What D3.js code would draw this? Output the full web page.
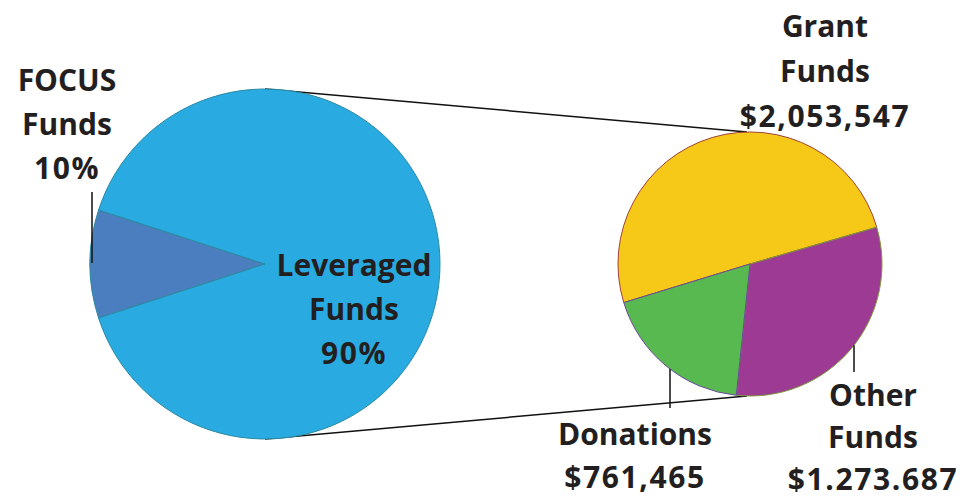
<!DOCTYPE html>
<html>
<head>
<meta charset="utf-8">
<script src="https://cdn.jsdelivr.net/npm/d3@7"></script>
<style>
  body { margin: 0; background: #fff; }
  text { font-family: "Open Sans", Lato, sans-serif; font-weight: 700; fill: #231f20; }
</style>
</head>
<body>
<div class="container"></div>
<script>
const WIDTH = 978;
const HEIGHT = 496;

// left pie: FOCUS share vs leveraged share
var leftCategories = ['FOCUS Funds', 'Leveraged Funds'];
var leftValues = [10, 90];
var leftLabels = [['FOCUS', 'Funds', '10%'], ['Leveraged', 'Funds', '90%']];
var leftColors = ['#4a7ebf', '#29abe2'];

// right pie: breakdown of leveraged funds
var rightCategories = ['Grant Funds', 'Other Funds', 'Donations'];
var rightValues = [2053547, 1273687, 761465];
var rightLabels = [['Grant', 'Funds', '$2,053,547'], ['Other', 'Funds', '$1.273.687'], ['Donations', '$761,465']];
var rightColors = ['#f6c918', '#9c3a94', '#57b94f'];
var rightStrokes = ['#a0413a', '#7a9a3a', '#6a4a9a'];

var deg = Math.PI / 180;
var LINE_H = 44;

var translate = function (x, y) {
    return 'translate(' + x + ',' + y + ')';
};

var svg = d3.select('.container').append('svg')
    .attr('width', WIDTH)
    .attr('height', HEIGHT);

var L = {cx: 265, cy: 264, r: 175};
var R = {cx: 750, cy: 264, r: 132};

// connector lines between the two pies (top to top, bottom to bottom)
svg.append('g')
    .selectAll('line')
    .data([-1, 1])
    .enter().append('line')
    .attr('x1', L.cx)
    .attr('y1', function (d) { return L.cy + d * L.r; })
    .attr('x2', R.cx - 3)
    .attr('y2', function (d) { return R.cy + d * R.r; })
    .attr('stroke', '#111')
    .attr('stroke-width', 1.5);

var leftPie = d3.pie().sort(null)
    .startAngle(-108 * deg)
    .endAngle(252 * deg);
var leftArc = d3.arc().innerRadius(0).outerRadius(L.r);

svg.append('g')
    .attr('transform', translate(L.cx, L.cy))
    .selectAll('path')
    .data(leftPie(leftValues))
    .enter().append('path')
    .attr('d', leftArc)
    .attr('fill', function (d, i) { return leftColors[i]; })
    .attr('stroke', '#2b8aa0')
    .attr('stroke-width', 1);

var rightPie = d3.pie().sort(null)
    .startAngle(-107 * deg)
    .endAngle(253 * deg);
var rightArc = d3.arc().innerRadius(0).outerRadius(R.r);

svg.append('g')
    .attr('transform', translate(R.cx, R.cy))
    .selectAll('path')
    .data(rightPie(rightValues))
    .enter().append('path')
    .attr('d', rightArc)
    .attr('fill', function (d, i) { return rightColors[i]; })
    .attr('stroke', function (d, i) { return rightStrokes[i]; })
    .attr('stroke-width', 1);

// leader lines: vertical, from a point on the rim outward
var rimY = function (p, x, sign) {
    var dx = x - p.cx;
    return p.cy + sign * Math.sqrt(p.r * p.r - dx * dx);
};
var leaders = [
    {x1: L.cx - L.r + 2, y1: 192, x2: L.cx - L.r + 2, y2: L.cy - 1},
    {x1: 670, y1: rimY(R, 670, 1), x2: 670, y2: 408},
    {x1: 854, y1: rimY(R, 854, 1), x2: 854, y2: 372}
];
svg.append('g')
    .selectAll('line')
    .data(leaders)
    .enter().append('line')
    .attr('x1', function (d) { return d.x1; })
    .attr('y1', function (d) { return d.y1; })
    .attr('x2', function (d) { return d.x2; })
    .attr('y2', function (d) { return d.y2; })
    .attr('stroke', '#111')
    .attr('stroke-width', 1.5);

// text labels: anchor is the centre x and first baseline
var labelAnchors = [
    {lines: leftLabels[0], x: 67, y: 91, lh: LINE_H},
    {lines: leftLabels[1], x: 354, y: 276, lh: LINE_H},
    {lines: rightLabels[0], x: 825, y: 37, lh: 45},
    {lines: rightLabels[1], x: 873, y: 406, lh: 42},
    {lines: rightLabels[2], x: 635, y: 445, lh: 43}
];

var label = svg.append('g')
    .selectAll('text')
    .data(labelAnchors)
    .enter().append('text')
    .attr('text-anchor', 'middle')
    .attr('font-size', 30);

label.selectAll('tspan')
    .data(function (d) {
        return d.lines.map(function (t, i) { return {t: t, x: d.x, y: d.y + i * d.lh}; });
    })
    .enter().append('tspan')
    .attr('x', function (d) { return d.x; })
    .attr('y', function (d) { return d.y; })
    .attr('letter-spacing', function (d) { return /^[$0-9]/.test(d.t) ? 1.6 : 0; })
    .text(function (d) { return d.t; });
</script>
</body>
</html>
